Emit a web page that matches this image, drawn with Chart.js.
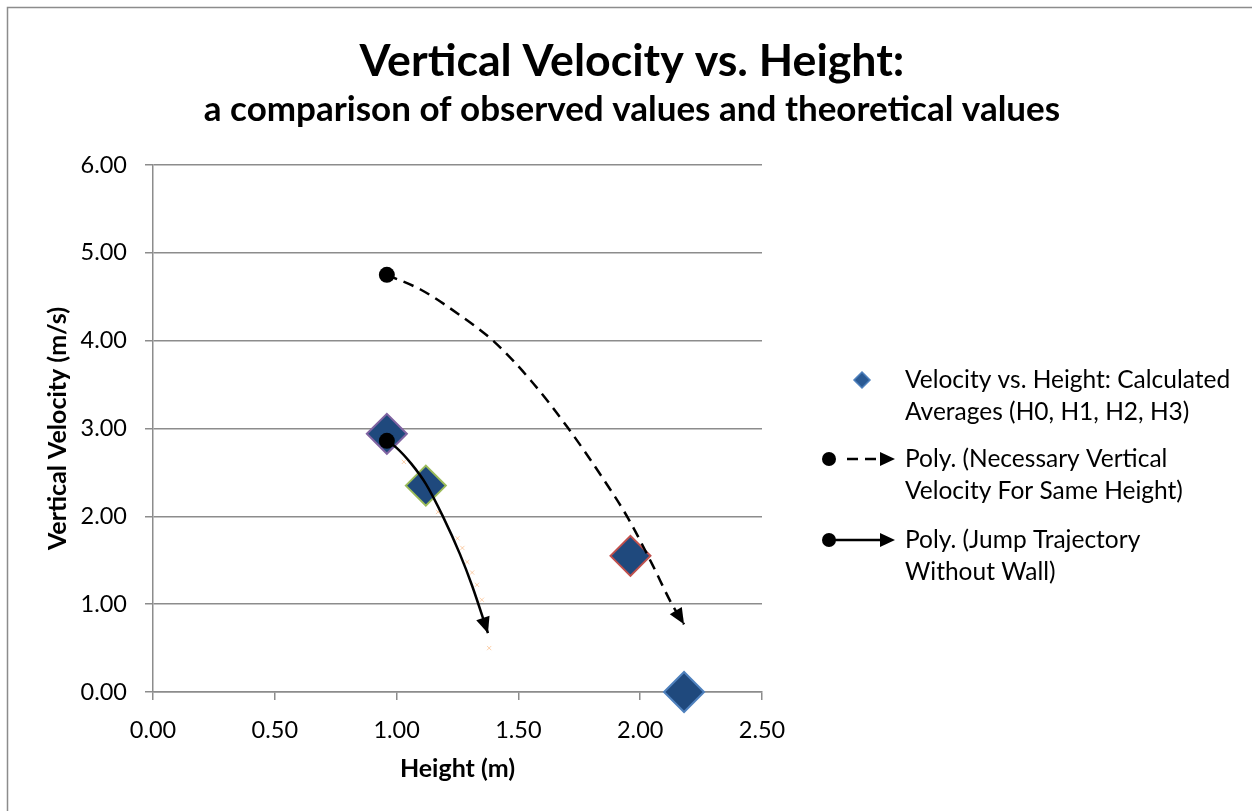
<!DOCTYPE html>
<html>
<head>
<meta charset="utf-8">
<script src="https://cdn.jsdelivr.net/npm/chart.js@4.4.1/dist/chart.umd.min.js"></script>
<style>
  html, body { margin: 0; padding: 0; background: #fff; }
  #wrap { width: 1252px; height: 811px; }
</style>
</head>
<body>
<div id="wrap"><canvas id="chart" width="1252" height="811"></canvas></div>
<script>
// =========================================================
// DATA
// =========================================================

    // calculated averages (H0, H1, H2, H3)
    const averageHeights = [0.96, 1.12, 1.96, 2.18];
    const averageVelocities = [2.94, 2.35, 1.55, 0.00];

    // poly trendline: necessary vertical velocity for same height
    const necessaryHeights = [0.96, 1.10, 1.25, 1.40, 1.55, 1.70, 1.85, 1.95, 2.05, 2.13, 2.18];
    const necessaryVelocities = [4.75, 4.58, 4.31, 3.99, 3.55, 3.02, 2.42, 1.98, 1.45, 1.00, 0.77];

    // poly trendline: jump trajectory without wall
    const jumpHeights = [0.96, 1.00, 1.06, 1.12, 1.19, 1.26, 1.31, 1.375];
    const jumpVelocities = [2.86, 2.78, 2.60, 2.37, 2.00, 1.57, 1.21, 0.67];

    // faint sample markers behind the jump trajectory
    const sampleHeights = [1.03, 1.10, 1.17, 1.25, 1.27, 1.29, 1.31, 1.33, 1.35, 1.38];
    const sampleVelocities = [2.62, 2.39, 2.05, 1.75, 1.64, 1.48, 1.36, 1.22, 1.05, 0.50];

    const seriesNames = [
        "Velocity vs. Height: Calculated Averages (H0, H1, H2, H3)",
        "Poly. (Necessary Vertical Velocity For Same Height)",
        "Poly. (Jump Trajectory Without Wall)"
    ];
    const legendLines = [
        ["Velocity vs. Height: Calculated", "Averages (H0, H1, H2, H3)"],
        ["Poly. (Necessary Vertical", "Velocity For Same Height)"],
        ["Poly. (Jump Trajectory", "Without Wall)"]
    ];

    const chartTitle = "Vertical Velocity vs. Height:";
    const chartSubtitle = "a comparison of observed values and theoretical values";
    const xAxisTitle = "Height (m)";
    const yAxisTitle = "Vertical Velocity (m/s)";

// =========================================================
// STYLE
// =========================================================

    const FONT = "Lato, 'Open Sans', sans-serif";
    const GRID_COLOUR = "#8c8c8c";
    const DIAMOND_FILL = "#1F497D";
    const diamondBorders = ["#8064A2", "#9BBB59", "#C0504D", "#4F81BD"];

    function toPoints(xs, ys) {
        return xs.map((x, i) => ({ x: x, y: ys[i] }));
    }

    function startMarker(count) {
        return Array.from({ length: count }, (_, i) => (i === 0 ? 8 : 0));
    }

    function drawArrowHead(ctx, tipX, tipY, angle, length, halfWidth) {
        const baseX = tipX - Math.cos(angle) * length;
        const baseY = tipY - Math.sin(angle) * length;
        ctx.beginPath();
        ctx.moveTo(tipX, tipY);
        ctx.lineTo(baseX - Math.sin(angle) * halfWidth, baseY + Math.cos(angle) * halfWidth);
        ctx.lineTo(baseX + Math.sin(angle) * halfWidth, baseY - Math.cos(angle) * halfWidth);
        ctx.closePath();
        ctx.fill();
    }

// =========================================================
// PLUGINS
// =========================================================

    const frame = {
        id: "frame",
        beforeDraw(chart) {
            const ctx = chart.ctx;
            ctx.save();
            ctx.fillStyle = "#fff";
            ctx.fillRect(0, 0, chart.width, chart.height);
            ctx.strokeStyle = "#8c8c8c";
            ctx.lineWidth = 1.5;
            ctx.strokeRect(7.5, 7.5, chart.width + 20, chart.height + 20);
            ctx.restore();
        }
    };

    // arrow heads at the end of the trendlines
    const arrowHeads = {
        id: "arrowHeads",
        afterDatasetsDraw(chart) {
            const ctx = chart.ctx;
            chart.data.datasets.forEach((dataset, index) => {
                if (!dataset.arrowHead) return;
                const points = chart.getDatasetMeta(index).data;
                const tip = points[points.length - 1];
                let fromX = tip.cp1x, fromY = tip.cp1y;
                if (fromX === undefined || (fromX === tip.x && fromY === tip.y)) {
                    fromX = points[points.length - 2].x;
                    fromY = points[points.length - 2].y;
                }
                const angle = Math.atan2(tip.y - fromY, tip.x - fromX);
                ctx.save();
                ctx.fillStyle = "#000";
                drawArrowHead(ctx, tip.x, tip.y, angle, 16, 7);
                ctx.restore();
            });
        }
    };

    const sideLegend = {
        id: "sideLegend",
        afterDraw(chart) {
            const ctx = chart.ctx;
            const textX = 905;
            const rows = [380, 459, 540];
            ctx.save();
            ctx.font = "24.5px " + FONT;
            ctx.fillStyle = "#000";
            ctx.textBaseline = "middle";
            legendLines.forEach((lines, i) => {
                lines.forEach((line, j) => ctx.fillText(line, textX, rows[i] + j * 32));
            });

            // diamond
            ctx.beginPath();
            ctx.moveTo(862, rows[0] - 8);
            ctx.lineTo(870, rows[0]);
            ctx.lineTo(862, rows[0] + 8);
            ctx.lineTo(854, rows[0]);
            ctx.closePath();
            ctx.fillStyle = "#2A5a94";
            ctx.fill();
            ctx.strokeStyle = "#4F81BD";
            ctx.lineWidth = 1.5;
            ctx.stroke();

            // dashed and solid trendline samples
            ctx.fillStyle = "#000";
            ctx.strokeStyle = "#000";
            ctx.lineWidth = 2.5;
            [1, 2].forEach(i => {
                const y = rows[i];
                ctx.beginPath();
                ctx.arc(829, y, 7, 0, Math.PI * 2);
                ctx.fill();
                ctx.beginPath();
                if (i === 1) {
                    ctx.setLineDash([11, 7]);
                    ctx.moveTo(847, y);
                } else {
                    ctx.setLineDash([]);
                    ctx.moveTo(829, y);
                }
                ctx.lineTo(882, y);
                ctx.stroke();
                ctx.setLineDash([]);
                drawArrowHead(ctx, 895, y, 0, 15, 7);
            });
            ctx.restore();
        }
    };

// =========================================================
// CHART
// =========================================================

    const canvas = document.getElementById("chart");

    new Chart(canvas, {
        type: "scatter",
        data: {
            datasets: [
                {
                    label: seriesNames[1],
                    data: toPoints(necessaryHeights, necessaryVelocities),
                    showLine: true,
                    borderColor: "#000",
                    borderWidth: 2.5,
                    borderDash: [11, 7],
                    cubicInterpolationMode: "monotone",
                    pointRadius: startMarker(necessaryHeights.length),
                    pointBackgroundColor: "#000",
                    pointBorderWidth: 0,
                    arrowHead: true,
                    order: 0
                },
                {
                    label: seriesNames[2],
                    data: toPoints(jumpHeights, jumpVelocities),
                    showLine: true,
                    borderColor: "#000",
                    borderWidth: 2.5,
                    cubicInterpolationMode: "monotone",
                    pointRadius: startMarker(jumpHeights.length),
                    pointBackgroundColor: "#000",
                    pointBorderWidth: 0,
                    arrowHead: true,
                    order: 0
                },
                {
                    label: seriesNames[0],
                    data: toPoints(averageHeights, averageVelocities),
                    pointStyle: "rectRot",
                    pointRadius: 20,
                    pointBackgroundColor: DIAMOND_FILL,
                    pointBorderColor: diamondBorders,
                    pointBorderWidth: 2,
                    clip: false,
                    order: 1
                },
                {
                    label: "samples",
                    data: toPoints(sampleHeights, sampleVelocities),
                    pointStyle: "crossRot",
                    pointRadius: 3,
                    pointBorderColor: "rgba(247, 150, 70, 0.45)",
                    pointBorderWidth: 1,
                    order: 2
                }
            ]
        },
        options: {
            responsive: false,
            animation: false,
            events: [],
            layout: { padding: { left: 12, right: 0, top: 0, bottom: 0 } },
            plugins: {
                legend: { display: false },
                tooltip: { enabled: false },
                title: {
                    display: true,
                    text: chartTitle,
                    color: "#000",
                    font: { family: FONT, size: 44.7, weight: "bold" },
                    padding: { top: 35.2, bottom: 0 }
                },
                subtitle: {
                    display: true,
                    text: chartSubtitle,
                    color: "#000",
                    font: { family: FONT, size: 35, weight: "bold" },
                    padding: { top: 0.2, bottom: 34 }
                }
            },
            scales: {
                x: {
                    type: "linear",
                    min: 0,
                    max: 2.5,
                    ticks: {
                        stepSize: 0.5,
                        color: "#000",
                        padding: 16,
                        font: { family: FONT, size: 23.5 },
                        callback: value => value.toFixed(2)
                    },
                    grid: {
                        drawOnChartArea: false,
                        tickLength: 8,
                        color: GRID_COLOUR,
                        lineWidth: 1.5
                    },
                    border: { color: GRID_COLOUR, width: 1.5 },
                    title: {
                        display: true,
                        text: xAxisTitle,
                        color: "#000",
                        font: { family: FONT, size: 25, weight: "bold" },
                        padding: { top: 0, bottom: 27 }
                    },
                    afterFit: scale => { scale.height = 119; }
                },
                y: {
                    type: "linear",
                    min: 0,
                    max: 6,
                    ticks: {
                        stepSize: 1,
                        color: "#000",
                        padding: 18,
                        font: { family: FONT, size: 23.5 },
                        callback: value => value.toFixed(2)
                    },
                    grid: {
                        tickLength: 8,
                        color: GRID_COLOUR,
                        lineWidth: 1.5
                    },
                    border: { color: GRID_COLOUR, width: 1.5 },
                    title: {
                        display: true,
                        text: yAxisTitle,
                        color: "#000",
                        font: { family: FONT, size: 25, weight: "bold" },
                        padding: { top: 31, bottom: 0 }
                    },
                    afterFit: scale => { scale.width = 141; }
                },
                // empty axis that keeps the right-hand side free for the legend
                legendSpace: {
                    type: "linear",
                    position: "right",
                    ticks: { display: false },
                    grid: { display: false },
                    border: { display: false },
                    afterFit: scale => { scale.width = 490; }
                }
            }
        },
        plugins: [frame, arrowHeads, sideLegend]
    });
</script>
</body>
</html>
